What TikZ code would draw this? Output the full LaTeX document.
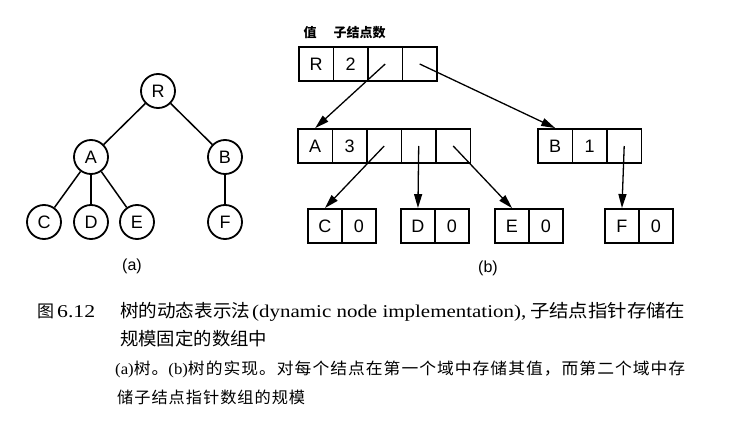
\documentclass[tikz,border=0pt]{standalone}
\usepackage{fontspec}
\usepackage{graphicx}
\setmainfont{Liberation Serif}
\newfontfamily\cjk{Noto Sans CJK SC}
\newfontfamily\cjksp[LetterSpace=6]{Noto Sans CJK SC}
\newfontfamily\lab{Liberation Sans}
\usetikzlibrary{arrows.meta}
\begin{document}
\begin{tikzpicture}[x=1pt,y=-1pt,
  tn/.style={circle,draw,line width=1.8pt,minimum size=34pt,inner sep=0pt,font=\lab\fontsize{18}{18}\selectfont},
  te/.style={line width=1.5pt},
  cell/.style={draw,line width=1.9pt,minimum width=34.5pt,minimum height=34pt,inner sep=0pt,anchor=west,font=\lab\fontsize{18}{18}\selectfont},
  scell/.style={cell,minimum width=34pt},
  ptr/.style={line width=1.3pt,-{Triangle[length=14pt,width=8pt]}},
  captxt/.style={inner sep=0pt,anchor=base west},
  sub/.style={font=\lab\fontsize{16}{16}\selectfont,inner sep=0pt}
]
\useasboundingbox (0,0) rectangle (732,431);

% ---------- (a) tree ----------
\node[tn] (R) at (158,91) {R};
\node[tn] (A) at (91,157) {A};
\node[tn] (B) at (225,157) {B};
\node[tn] (C) at (44,222) {C};
\node[tn] (D) at (91,222) {D};
\node[tn] (E) at (137,222) {E};
\node[tn] (F) at (225,222) {F};
\draw[te] (R) -- (A);
\draw[te] (R) -- (B);
\draw[te] (A) -- (C);
\draw[te] (A) -- (D);
\draw[te] (A) -- (E);
\draw[te] (B) -- (F);
\node[sub] (la) at (132,266) {(a)};

% ---------- (b) records ----------
\node[font=\cjk\bfseries\fontsize{13}{13}\selectfont,inner sep=0pt] (h1) at (310,33) {值};
\node[font=\cjk\bfseries\fontsize{13}{13}\selectfont,inner sep=0pt] (h2) at (359.5,33) {子结点数};

\node[cell] (R1) at (298,64) {R};
\node[cell] (R2) at (332.5,64) {2};
\node[cell] (R3) at (367,64) {};
\node[cell] (R4) at (401.5,64) {};

\node[cell] (A1) at (297,146) {A};
\node[cell] (A2) at (331.5,146) {3};
\node[cell] (A3) at (366,146) {};
\node[cell] (A4) at (400.5,146) {};
\node[cell] (A5) at (435,146) {};

\node[cell] (B1) at (537,146) {B};
\node[cell] (B2) at (571.5,146) {1};
\node[cell] (B3) at (606,146) {};

\node[scell] (C1) at (307,226) {C};
\node[scell] (C2) at (341,226) {0};
\node[scell] (D1) at (400,226) {D};
\node[scell] (D2) at (434,226) {0};
\node[scell] (E1) at (494,226) {E};
\node[scell] (E2) at (528,226) {0};
\node[scell] (F1) at (604,226) {F};
\node[scell] (F2) at (638,226) {0};

\draw[ptr] (R3.center) -- (A1.north);
\draw[ptr] (R4.center) -- (B1.north);
\draw[ptr] (A3.center) -- (C1.north);
\draw[ptr] (A4.center) -- (D1.north);
\draw[ptr] (A5.center) -- (E1.north);
\draw[ptr] (B3.center) -- (F1.north);
\node[sub] (lb) at (488,268) {(b)};

% ---------- caption ----------
\node[captxt] (t0) at (37,317) {\cjk\fontsize{17}{17}\selectfont 图};
\node[captxt] (t1) at (57,317) {\resizebox{38pt}{\height}{\fontsize{18}{18}\selectfont 6.12}};
\node[captxt] (t2) at (120,317) {\resizebox{130pt}{\height}{\cjk\fontsize{18}{18}\selectfont 树的动态表示法}};
\node[captxt] (t3) at (252,317) {\resizebox{274pt}{\height}{\fontsize{18}{18}\selectfont (dynamic node implementation),}};
\node[captxt] (t4) at (530,317) {\resizebox{155pt}{\height}{\cjk\fontsize{18}{18}\selectfont 子结点指针存储在}};
\node[captxt] (t5) at (120,345) {\resizebox{147pt}{\height}{\cjk\fontsize{18}{18}\selectfont 规模固定的数组中}};
\node[captxt] (t6) at (115,374) {\resizebox{570pt}{\height}{\fontsize{16}{16}\selectfont (a)\cjksp 树。\rmfamily(b)\cjksp 树的实现。对每个结点在第一个域中存储其值，而第二个域中存}};
\node[captxt] (t7) at (117,403) {\resizebox{188pt}{\height}{\cjksp\fontsize{16}{16}\selectfont 储子结点指针数组的规模}};
\end{tikzpicture}
\end{document}
